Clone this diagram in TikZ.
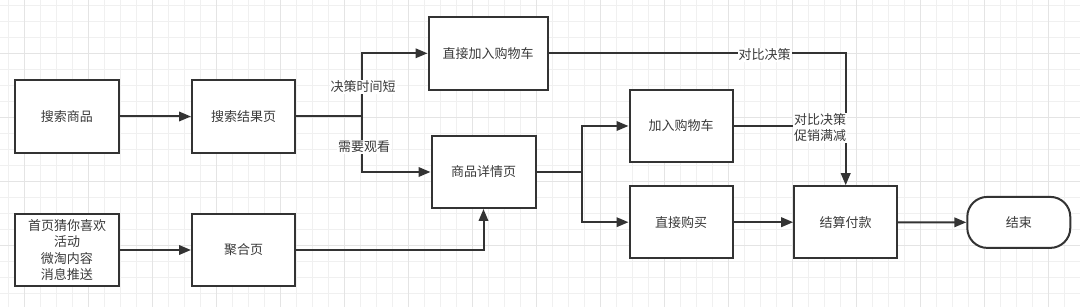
\documentclass[tikz,border=0pt]{standalone}
\usepackage{fontspec}
\setmainfont{Noto Sans CJK SC}
\usetikzlibrary{arrows.meta}
\definecolor{lc}{HTML}{333333}
\definecolor{tc}{HTML}{3A3A3A}
\definecolor{gminor}{HTML}{F0F0F0}
\definecolor{gmajor}{HTML}{E4E4E4}
\tikzset{
  box/.style={draw=lc, line width=2pt, fill=white, minimum width=103pt, minimum height=72pt, inner sep=0pt, text=tc, font=\fontsize{13}{16.3}\selectfont, align=center},
  conn/.style={draw=lc, line width=2pt},
  arr/.style={conn, -{Triangle[length=12pt,width=9.5pt]}},
  lbl/.style={fill=white, inner sep=1pt, text=tc, font=\fontsize{13}{16}\selectfont, align=center},
  gmin/.style={draw=gminor, line width=1pt},
  gmaj/.style={draw=gmajor, line width=1.2pt}
}
\begin{document}
\begin{tikzpicture}[x=1pt,y=-1pt]
\useasboundingbox (0,0) rectangle (1080,307);
\fill[white] (0,0) rectangle (1080,307);
\begin{scope}
\clip (0,0) rectangle (1080,307);
\foreach \i in {0,...,67} \draw[gmin] ({8.3+16*\i},0) -- ({8.3+16*\i},307);
\foreach \i in {0,...,19} \draw[gmin] (0,{5.7+16*\i}) -- (1080,{5.7+16*\i});
\foreach \i in {0,...,16} \draw[gmaj] ({24.3+64*\i},0) -- ({24.3+64*\i},307);
\foreach \i in {0,...,4} \draw[gmaj] (0,{-10.3+64*\i}) -- (1080,{-10.3+64*\i});
\end{scope}

\node[box, minimum width=104pt, minimum height=73pt] (s1) at (67,116.5) {搜索商品};
\node[box, minimum height=73pt] (s2) at (243.5,116.5) {搜索结果页};
\node[box, minimum width=104pt] (s3) at (67,250) {首页猜你喜欢\\活动\\微淘内容\\消息推送};
\node[box] (s4) at (243.5,250) {聚合页};
\node[box, minimum width=119pt, minimum height=73pt] (d1) at (488,53.3) {直接加入购物车};
\node[box, minimum width=104pt] (d2) at (483.5,172) {商品详情页};
\node[box] (c1) at (681,126) {加入购物车};
\node[box] (c2) at (681,222.2) {直接购买};
\node[box] (pay) at (845.7,222.2) {结算付款};
\node[box, minimum height=51pt, rounded corners=20pt] (end) at (1018.8,222.4) {结束};

\draw[arr] (s1) -- (s2);
\draw[arr] (s3) -- (s4);
\draw[conn] (s2.east) -- (362,116.5) coordinate (j1);
\draw[arr] (j1) |- (d1.west);
\draw[arr] (j1) |- (d2.west);
\draw[arr] (s4.east) -| (d2.south);
\draw[conn] (d2.east) -- (582,172) coordinate (j2);
\draw[arr] (j2) |- (c1.west);
\draw[arr] (j2) |- (c2.west);
\draw[arr] (c2) -- (pay);
\draw[arr] (pay) -- (end);
\draw[arr] (d1.east) -| (pay.north);
\draw[conn] (c1.east) -- (pay.north |- c1.east) coordinate (j3);

\node[lbl] (l1) at (363,87) {决策时间短};
\node[lbl] (l2) at (364,147) {需要观看};
\node[lbl] (l3) at (764.5,55) {对比决策};
\node[lbl] (l4) at (820,128) {对比决策\\促销满减};
\end{tikzpicture}
\end{document}
